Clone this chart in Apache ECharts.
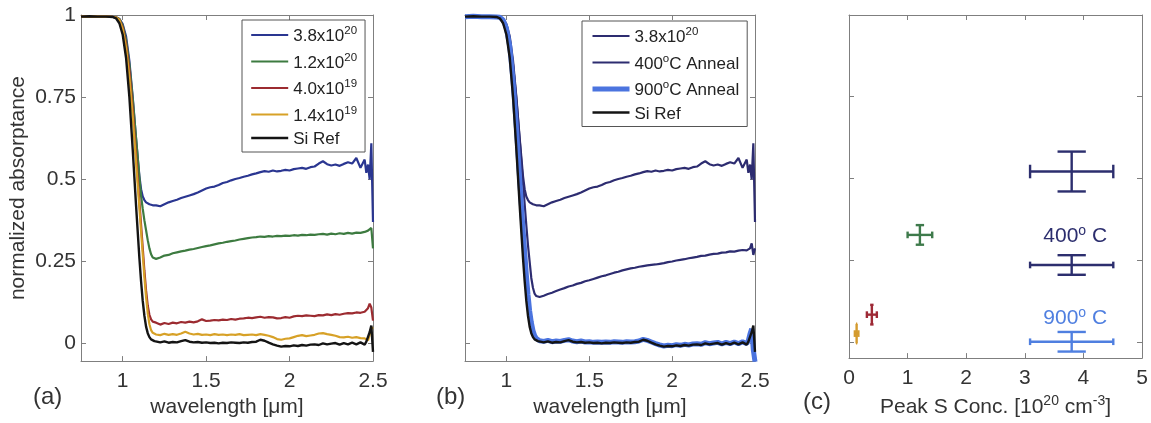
<!DOCTYPE html>
<html>
<head>
<meta charset="utf-8">
<script src="https://cdn.jsdelivr.net/npm/echarts@6/dist/echarts.min.js"></script>
<style>
  html, body { margin: 0; padding: 0; background: #ffffff; }
  #chart { width: 1151px; height: 423px; }
</style>
</head>
<body>
<div id="chart"></div>
<script>
// ---- shared wavelength sampling [um] ----
const wavelength = [
  0.75, 0.80, 0.85, 0.90, 0.94, 0.96, 0.98, 1.00, 1.02, 1.04, 1.06, 1.08, 1.10, 1.11, 1.12, 1.13, 1.14, 1.15, 1.16, 1.17, 1.18, 1.19,
  1.200, 1.225, 1.250, 1.275, 1.300, 1.325, 1.350, 1.375, 1.400, 1.425,
  1.450, 1.475, 1.500, 1.525, 1.550, 1.575, 1.600, 1.625, 1.650, 1.675,
  1.700, 1.725, 1.750, 1.775, 1.800, 1.825, 1.850, 1.875, 1.900, 1.925,
  1.950, 1.975, 2.000, 2.025, 2.050, 2.075, 2.100, 2.125, 2.150, 2.175,
  2.200, 2.225, 2.250, 2.275, 2.300, 2.325, 2.350, 2.375, 2.400, 2.425,
  2.450,
  2.46, 2.47, 2.48, 2.49, 2.50
];

// ---- normalized absorptance spectra ----
const abs38e20 = [
  .995, .996, .995, .995, .994, .993, .988, .972, .935, .86, .75, .625, .51, .47, .448, .437, .43, .426, .424, .422, .421, .42,
  .421, .418, .424, .43, .434, .438, .443, .447, .451, .455,
  .46, .466, .472, .476, .478, .483, .489, .492, .497, .501,
  .504, .508, .511, .515, .518, .522, .525, .523, .527, .524,
  .526, .529, .527, .531, .533, .535, .532, .537, .539, .548,
  .555, .546, .542, .545, .541, .547, .552, .548, .565, .535,
  .56,
  .52, .545, .5, .61, .37
];
const abs12e20 = [
  .995, .996, .995, .995, .994, .993, .988, .968, .925, .85, .745, .625, .505, .45, .41, .375, .345, .315, .29, .272, .262, .258,
  .258, .262, .268, .27, .275, .278, .281, .283, .286, .288,
  .291, .294, .297, .299, .302, .305, .307, .31, .312, .314,
  .317, .319, .321, .323, .324, .326, .325, .327, .326, .328,
  .327, .329, .328, .33, .329, .331, .33, .332, .331, .333,
  .334, .332, .335, .333, .336, .334, .337, .335, .338, .337,
  .34,
  .338, .344, .35, .352, .29
];
const abs40e19 = [
  .995, .996, .995, .995, .994, .993, .986, .962, .912, .832, .712, .572, .432, .362, .292, .222, .162, .116, .088, .074, .067, .064,
  .064, .058, .063, .06, .064, .062, .066, .064, .067, .065,
  .068, .074, .069, .07, .072, .071, .073, .072, .075, .073,
  .076, .077, .079, .078, .08, .082, .079, .081, .08, .077,
  .078, .081, .079, .083, .085, .084, .086, .085, .084, .087,
  .086, .089, .087, .09, .088, .091, .093, .092, .095, .094,
  .097,
  .1, .108, .122, .11, .07
];
const abs14e19 = [
  .995, .996, .995, .995, .994, .993, .985, .957, .902, .812, .692, .552, .412, .342, .272, .202, .142, .092, .059, .041, .033, .029,
  .028, .026, .03, .027, .029, .027, .031, .036, .031, .028,
  .03, .027, .028, .026, .029, .027, .028, .026, .028, .027,
  .029, .026, .027, .028, .026, .029, .027, .024, .02, .014,
  .012, .015, .016, .02, .024, .026, .023, .025, .027, .031,
  .032, .029, .027, .024, .02, .019, .021, .018, .02, .017,
  .016,
  .014, .01, .006, .045, .05
];
const absSiRef = [
  .995, .996, .995, .995, .994, .99, .975, .94, .87, .75, .59, .42, .26, .19, .13, .085, .052, .032, .02, .013, .01, .008,
  .006, .004, .007, .003, .005, .004, .008, .011, .006, .004,
  .005, .003, .004, .002, .003, .001, .003, .002, .004, .003,
  .002, .004, .003, .005, .006, .012, .009, .003, -.002, -.006,
  -.009, -.007, -.008, -.005, -.007, -.004, -.006, -.003, -.002, -.004,
  .001, -.002, 0, .002, -.003, .002, -.002, .003, -.002, .004,
  -.003,
  .006, .002, .035, .055, -.025
];
const abs400C = [
  .995, .996, .995, .995, .994, .993, .988, .968, .925, .85, .745, .62, .49, .425, .36, .3, .25, .2, .17, .152, .145, .142,
  .142, .146, .151, .155, .16, .165, .169, .174, .177, .182,
  .185, .19, .193, .197, .201, .205, .208, .212, .216, .219,
  .223, .226, .229, .231, .234, .236, .238, .24, .241, .243,
  .245, .248, .25, .253, .255, .257, .26, .262, .264, .267,
  .268, .271, .273, .274, .277, .278, .281, .28, .283, .285,
  .284,
  .287, .29, .305, .27, .29
];
const abs900C = [
  .995, .996, .995, .995, .994, .993, .985, .96, .905, .8, .66, .5, .35, .28, .21, .15, .1, .065, .04, .025, .016, .011,
  .009, .007, .01, .006, .008, .007, .01, .012, .008, .006,
  .008, .005, .006, .004, .005, .004, .005, .004, .006, .005,
  .004, .006, .005, .006, .008, .013, .01, .005, 0, -.004,
  -.007, -.005, -.006, -.003, -.005, -.002, -.004, -.001, 0, -.002,
  .003, 0, .002, .004, -.001, .004, 0, .005, 0, .006,
  0,
  .01, .03, .045, -.02, -.055
];

// ---- peak sulfur concentration vs. absorptance ----
const peakConc    = [0.13, 0.39, 1.21, 3.80];   // 1e20 cm^-3
const peakAbs     = [0.025, 0.083, 0.327, 0.521];
const peakConcErr = [0.03, 0.085, 0.21, 0.71];
const peakAbsErr  = [0.03, 0.03, 0.03, 0.061];
const annealConc    = [3.80, 3.80];
const annealAbs     = [0.235, 0.0];
const annealConcErr = [0.71, 0.71];
const annealAbsErr  = [0.03, 0.03];
const annealLabels  = ['400{o|o} C', '900{o|o} C'];
const annealLabelX  = [3.86, 3.86];
const annealLabelY  = [0.323, 0.072];

// ---- tick labels ----
const absTicks  = [0, 0.25, 0.5, 0.75, 1];
const waveTicks = [1, 1.5, 2, 2.5];
const concTicks = [0, 1, 2, 3, 4, 5];

// ---- styling ----
const FONT = '"Liberation Sans", Arial, Helvetica, sans-serif';
const FRAME = '#7f7f7f';
const INK = '#333333';
const C = {
  blue: '#2a3691', green: '#3d7b40', red: '#9c2b30', gold: '#d7a127', black: '#141414',
  navy: '#2d2c70', light: '#4b74df'
};
const peakColors   = ['#d49b2e', '#9e2a36', '#3e7a4b', '#2c2e6e'];
const annealColors = ['#2c2e6e', '#4f7fe0'];
const CAP_RATIO = 0.34;

const legendText = {
  a38: '{n|3.8x10}{s|20}', a12: '{n|1.2x10}{s|20}', a40: '{n|4.0x10}{s|19}', a14: '{n|1.4x10}{s|19}', aSi: '{n|Si Ref}',
  b38: '{n|3.8x10}{s|20}', b400: '{n|400}{s|o}{n|C Anneal}', b900: '{n|900}{s|o}{n|C Anneal}', bSi: '{n|Si Ref}'
};
const supRich = {
  n: { fontSize: 17, fontFamily: FONT, color: '#222', lineHeight: 20, verticalAlign: 'bottom' },
  s: { fontSize: 11.5, fontFamily: FONT, color: '#222', lineHeight: 12, verticalAlign: 'top' }
};

const pairs = ys => wavelength.map((w, i) => [w, ys[i]]);

const grids = [
  { left: 81,  top: 15, width: 292, height: 350 },
  { left: 465, top: 15, width: 290, height: 350 },
  { left: 849, top: 15, width: 293, height: 350 }
];

function xAxis(gi, position, min, max, ticks, labels, name, nameRich) {
  return {
    type: 'value', gridIndex: gi, position, min, max,
    axisLine: { show: true, onZero: false, lineStyle: { color: FRAME, width: 1 } },
    axisTick: { show: true, inside: true, length: 5, customValues: ticks, lineStyle: { color: FRAME } },
    axisLabel: { show: labels, customValues: ticks, margin: 10, color: INK, fontSize: 21, fontFamily: FONT },
    splitLine: { show: false },
    name: name || '', nameLocation: 'middle', nameGap: nameRich ? 27 : 29,
    nameTextStyle: nameRich
      ? { rich: nameRich }
      : { color: INK, fontSize: 21, fontFamily: FONT }
  };
}
function yAxis(gi, position, min, labels, name) {
  return {
    type: 'value', gridIndex: gi, position, min, max: 1,
    axisLine: { show: true, onZero: false, lineStyle: { color: FRAME, width: 1 } },
    axisTick: { show: true, inside: true, length: 5, customValues: absTicks, lineStyle: { color: FRAME } },
    axisLabel: { show: labels, customValues: absTicks, margin: 5, color: INK, fontSize: 21, fontFamily: FONT },
    splitLine: { show: false },
    name: name || '', nameLocation: 'middle', nameGap: 52,
    nameTextStyle: { color: INK, fontSize: 21, fontFamily: FONT }
  };
}

const concNameRich = {
  n: { fontSize: 21, fontFamily: FONT, color: INK, lineHeight: 24, verticalAlign: 'bottom' },
  s: { fontSize: 14, fontFamily: FONT, color: INK, lineHeight: 14, verticalAlign: 'top' }
};

function lineSeries(id, gi, ys, color, width) {
  return {
    type: 'line', name: id, xAxisIndex: gi * 2, yAxisIndex: gi * 2,
    data: pairs(ys), showSymbol: false, symbol: 'none', smooth: false,
    lineStyle: { color, width }, itemStyle: { color },
    clip: true, animation: false, silent: true
  };
}

function errorBarRenderer(colors) {
  return function (params, api) {
    const x = api.value(0), y = api.value(1), dx = api.value(2), dy = api.value(3);
    const c = api.coord([x, y]);
    const l = api.coord([x - dx, y]), r = api.coord([x + dx, y]);
    const t = api.coord([x, y + dy]), b = api.coord([x, y - dy]);
    const capV = CAP_RATIO * (r[0] - l[0]) / 2;
    const capH = CAP_RATIO * (b[1] - t[1]) / 2;
    const style = { stroke: colors[params.dataIndex], lineWidth: 2.4 };
    const seg = (x1, y1, x2, y2) => ({ type: 'line', shape: { x1, y1, x2, y2 }, style });
    return {
      type: 'group',
      children: [
        seg(l[0], c[1], r[0], c[1]),
        seg(c[0], t[1], c[0], b[1]),
        seg(c[0] - capV, t[1], c[0] + capV, t[1]),
        seg(c[0] - capV, b[1], c[0] + capV, b[1]),
        seg(l[0], c[1] - capH, l[0], c[1] + capH),
        seg(r[0], c[1] - capH, r[0], c[1] + capH)
      ]
    };
  };
}

const legendBase = {
  orient: 'vertical', itemWidth: 37, itemHeight: 14, itemGap: 6.5,
  padding: [5, 8, 4, 8], borderColor: '#555', borderWidth: 1, backgroundColor: '#fff',
  selectedMode: false,
  itemStyle: { opacity: 0 },
  lineStyle: { width: 'inherit' },
  textStyle: { fontSize: 17, fontFamily: FONT, color: '#222', rich: supRich },
  formatter: name => legendText[name]
};

const option = {
  animation: false,
  backgroundColor: '#ffffff',
  grid: grids,
  legend: [
    Object.assign({}, legendBase, { left: 242, top: 20, data: ['a38', 'a12', 'a40', 'a14', 'aSi'] }),
    Object.assign({}, legendBase, { left: 582, top: 21, data: ['b38', 'b400', 'b900', 'bSi'] })
  ],
  xAxis: [
    xAxis(0, 'bottom', 0.75, 2.5, waveTicks, true, 'wavelength [\u03bcm]'),
    xAxis(0, 'top', 0.75, 2.5, waveTicks, false),
    xAxis(1, 'bottom', 0.75, 2.5, waveTicks, true, 'wavelength [\u03bcm]'),
    xAxis(1, 'top', 0.75, 2.5, waveTicks, false),
    xAxis(2, 'bottom', 0, 5, concTicks, true,
      '{n|Peak S Conc. [10}{s|20}{n| cm}{s|-3}{n|]}', concNameRich),
    xAxis(2, 'top', 0, 5, concTicks, false)
  ],
  yAxis: [
    yAxis(0, 'left', -0.053, true, 'normalized absorptance'),
    yAxis(0, 'right', -0.053, false),
    yAxis(1, 'left', -0.053, false),
    yAxis(1, 'right', -0.053, false),
    yAxis(2, 'left', -0.05, false),
    yAxis(2, 'right', -0.05, false)
  ],
  series: [
    lineSeries('a38', 0, abs38e20, C.blue, 2.2),
    lineSeries('a12', 0, abs12e20, C.green, 2.2),
    lineSeries('a40', 0, abs40e19, C.red, 2.2),
    lineSeries('a14', 0, abs14e19, C.gold, 2.2),
    lineSeries('aSi', 0, absSiRef, C.black, 2.4),

    lineSeries('b38', 1, abs38e20, C.navy, 2.2),
    lineSeries('b400', 1, abs400C, C.navy, 2.2),
    lineSeries('b900', 1, abs900C, C.light, 5),
    lineSeries('bSi', 1, absSiRef, C.black, 2.4),

    {
      type: 'custom', name: 'peak', xAxisIndex: 4, yAxisIndex: 4, silent: true,
      renderItem: errorBarRenderer(peakColors),
      data: peakConc.map((x, i) => [x, peakAbs[i], peakConcErr[i], peakAbsErr[i]])
    },
    {
      type: 'custom', name: 'anneal', xAxisIndex: 4, yAxisIndex: 4, silent: true,
      renderItem: errorBarRenderer(annealColors),
      data: annealConc.map((x, i) => [x, annealAbs[i], annealConcErr[i], annealAbsErr[i]])
    },
    {
      type: 'custom', name: 'annealText', xAxisIndex: 4, yAxisIndex: 4, silent: true,
      renderItem: function (params, api) {
        const p = api.coord([api.value(0), api.value(1)]);
        const col = annealColors[params.dataIndex];
        return {
          type: 'text', x: p[0], y: p[1],
          style: {
            text: annealLabels[params.dataIndex], align: 'center', verticalAlign: 'middle',
            rich: {
              o: { fontSize: 14, fontFamily: FONT, fill: col, lineHeight: 14, verticalAlign: 'top' }
            },
            fontSize: 21, fontFamily: FONT, fill: col, lineHeight: 24
          }
        };
      },
      data: annealLabelX.map((x, i) => [x, annealLabelY[i]])
    }
  ],
  graphic: [
    { type: 'text', left: 33, top: 385, style: { text: '(a)', fontSize: 24, fontFamily: FONT, fill: INK } },
    { type: 'text', left: 436, top: 385, style: { text: '(b)', fontSize: 24, fontFamily: FONT, fill: INK } },
    { type: 'text', left: 803, top: 390, style: { text: '(c)', fontSize: 24, fontFamily: FONT, fill: INK } }
  ]
};

const chart = echarts.init(document.getElementById('chart'), null, { renderer: 'canvas' });
chart.setOption(option);
</script>
</body>
</html>
